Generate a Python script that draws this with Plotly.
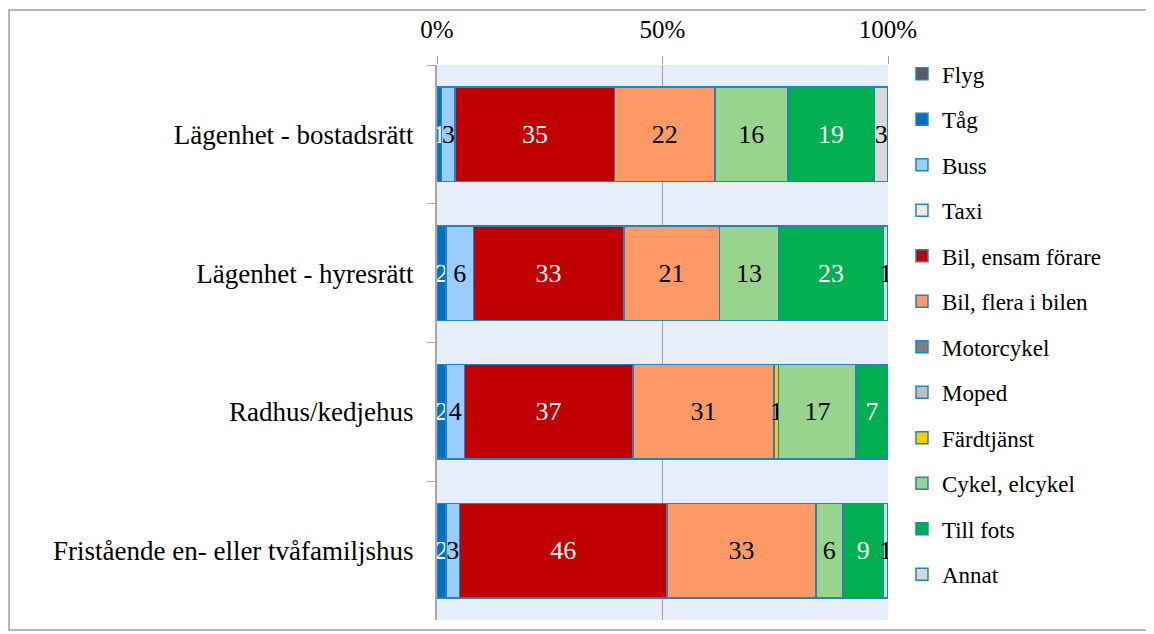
import plotly.graph_objects as go

categories = ["Lägenhet - bostadsrätt", "Lägenhet - hyresrätt", "Radhus/kedjehus",
              "Fristående en- eller tvåfamiljshus"]
modes = ["Flyg", "Tåg", "Buss", "Taxi", "Bil, ensam förare", "Bil, flera i bilen",
         "Motorcykel", "Moped", "Färdtjänst", "Cykel, elcykel", "Till fots", "Annat"]

flyg = [0, 0, 0, 0]
tag = [1, 2, 2, 2]
buss = [3, 6, 4, 3]
taxi = [0, 0, 0, 0]
bil_ensam = [35, 33, 37, 46]
bil_flera = [22, 21, 31, 33]
motorcykel = [0, 0, 0, 0]
moped = [0, 0, 0, 0]
fardtjanst = [0, 0, 1, 0]
cykel = [16, 13, 17, 6]
till_fots = [19, 23, 7, 9]
annat = [3, 1, 0, 1]

series = [flyg, tag, buss, taxi, bil_ensam, bil_flera, motorcykel, moped,
          fardtjanst, cykel, till_fots, annat]
colors = ["#595959", "#0070C0", "#99CCFF", "#FCE4D6", "#C00000", "#FF9966",
          "#7F7F7F", "#BFBFBF", "#FFCC00", "#99D48F", "#00B050", "#D9D9D9"]
text_colors = ["white", "white", "black", "black", "white", "black",
               "white", "black", "black", "black", "white", "black"]

FONT = "Liberation Serif, Times New Roman, serif"

fig = go.Figure()
for name, vals, col, tcol in zip(modes, series, colors, text_colors):
    fig.add_trace(go.Bar(
        y=categories, x=vals, name=name, orientation="h",
        marker=dict(color=col, line=dict(color="#2383BC", width=1.5)),
        text=[str(v) if v > 0 else "" for v in vals],
        textposition="inside", insidetextanchor="middle", textangle=0,
        constraintext="none",
        insidetextfont=dict(color=tcol, size=26, family=FONT),
        legendgroup=name, hoverinfo="x+name",
    ))

fig.update_layout(
    width=1154, height=634,
    barmode="stack", barnorm="percent", bargap=0.32,
    paper_bgcolor="white", plot_bgcolor="#E6EFF9",
    margin=dict(l=429, r=274, t=57, b=22, autoexpand=False),
    font=dict(family=FONT, size=26, color="black"),
    legend=dict(x=1.031, y=1.023, xanchor="left", yanchor="top",
                traceorder="grouped", tracegroupgap=12.6, maxheight=620,
                font=dict(size=23, family=FONT), itemwidth=30),
    showlegend=True,
    shapes=[dict(type="rect", xref="paper", yref="paper",
                 x0=-0.949, x1=1.576, y0=-0.018, y1=1.099,
                 line=dict(color="#A0A0A0", width=1.5), layer="below")],
)
fig.update_xaxes(side="top", range=[0, 100], tickvals=[0, 50, 100],
                 ticktext=["0%", "50%", "100%"], ticks="outside", ticklen=8,
                 tickcolor="#A0A0A0", showgrid=True, gridcolor="#A0A0A0", gridwidth=1,
                 zeroline=False, showline=False, automargin=False,
                 ticklabelstandoff=8, tickfont=dict(size=25, family=FONT))
fig.update_yaxes(autorange="reversed", showline=True, linecolor="#A6A6A6", linewidth=2,
                 ticks="outside", tickson="boundaries", ticklen=8, tickcolor="#A6A6A6",
                 showgrid=False, automargin=False, ticklabelstandoff=16,
                 tickfont=dict(size=27, family=FONT))

fig.write_html("out.html")
